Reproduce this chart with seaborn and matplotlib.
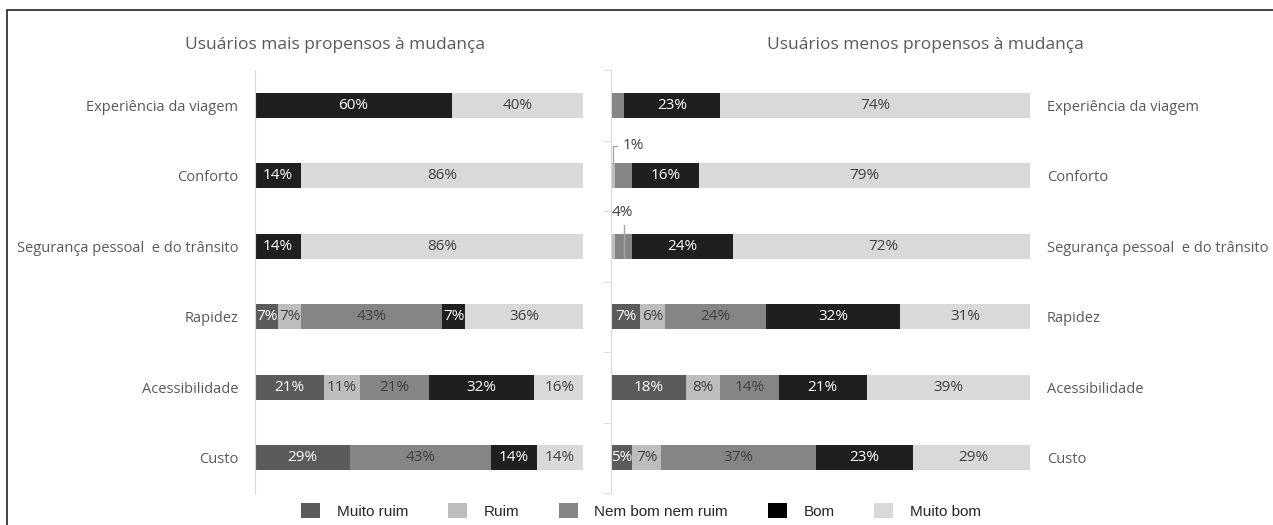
import matplotlib
matplotlib.use("Agg")
import pandas as pd
import seaborn as sns
import matplotlib.pyplot as plt
from matplotlib.patches import Rectangle, Patch

# Data
categories = ["Experiência da viagem", "Conforto", "Segurança pessoal  e do trânsito",
              "Rapidez", "Acessibilidade", "Custo"]
levels = ["Muito ruim", "Ruim", "Nem bom nem ruim", "Bom", "Muito bom"]

mais_muito_ruim = [0, 0, 0, 7, 21, 29]
mais_ruim = [0, 0, 0, 7, 11, 0]
mais_nem = [0, 0, 0, 43, 21, 43]
mais_bom = [60, 14, 14, 7, 32, 14]
mais_muito_bom = [40, 86, 86, 36, 16, 14]

menos_muito_ruim = [0, 0, 0, 7, 18, 5]
menos_ruim = [0, 1, 1, 6, 8, 7]
menos_nem = [3, 4, 4, 24, 14, 37]
menos_bom = [23, 16, 24, 32, 21, 23]
menos_muito_bom = [74, 79, 72, 31, 39, 29]

titles = ["Usuários mais propensos à mudança", "Usuários menos propensos à mudança"]

colors = {"Muito ruim": "#5b5b5b", "Ruim": "#bdbdbd", "Nem bom nem ruim": "#858585",
          "Bom": "#1f1f1f", "Muito bom": "#d9d9d9"}
dark = ["Muito ruim", "Bom"]

sns.set_style("white")
plt.rcParams["font.family"] = ["Open Sans", "DejaVu Sans"]

fig = plt.figure(figsize=(12.73, 5.25), dpi=100)
ax1 = fig.add_axes([255 / 1273, 1 - 493 / 525, 328 / 1273, 423 / 525])
ax2 = fig.add_axes([611 / 1273, 1 - 493 / 525, 419 / 1273, 423 / 525])


def draw_panel(ax, values):
    df = pd.DataFrame(dict(zip(levels, values)), index=categories)
    cum = df.cumsum(axis=1)
    # stacked bars: draw cumulative totals from the back
    for lvl in reversed(levels):
        sns.barplot(x=cum[lvl].values, y=categories, order=categories, orient="h",
                    color=colors[lvl], saturation=1, width=0.35, linewidth=0, ax=ax)
    for i, cat in enumerate(categories):
        start = 0
        for lvl in levels:
            v = df.loc[cat, lvl]
            if v >= 5:
                ax.text(start + v / 2, i, f"{v}%", ha="center", va="center", fontsize=11,
                        color="white" if lvl in dark else "#404040", clip_on=True)
            start += v
    ax.set_xlim(0, 100)
    ax.set_ylim(5.5, -0.5)
    ax.set_xlabel("")
    ax.set_ylabel("")
    ax.set_xticks([])
    for s in ["top", "right", "bottom"]:
        ax.spines[s].set_visible(False)
    ax.spines["left"].set_color("#d9d9d9")
    ax.tick_params(axis="y", length=0, pad=12, labelsize=10.5, labelcolor="#595959")


draw_panel(ax1, [mais_muito_ruim, mais_ruim, mais_nem, mais_bom, mais_muito_bom])
draw_panel(ax2, [menos_muito_ruim, menos_ruim, menos_nem, menos_bom, menos_muito_bom])

ax2.yaxis.tick_right()
ax2.tick_params(axis="y", length=0, pad=12)
ax2.set_yticks([i - 0.5 for i in range(7)], minor=True)
ax2.tick_params(axis="y", which="minor", left=True, right=False, length=6, color="#d9d9d9")

# small segments labelled outside
ax2.annotate("1%", xy=(0.5, 0.83), xytext=(2.8, 0.575), fontsize=11, color="#404040",
             va="center", ha="left",
             arrowprops=dict(arrowstyle="-", color="#a6a6a6", lw=1,
                             connectionstyle="angle,angleA=0,angleB=90,rad=0",
                             shrinkA=2, shrinkB=0))
ax2.text(2.6, 1.52, "4%", fontsize=11, color="#404040", ha="center", va="center")
ax2.plot([3.1, 3.1], [1.7, 2.17], color="#a6a6a6", lw=1)

fig.text(335 / 1273, 1 - 45 / 525, titles[0], ha="center", va="center", fontsize=12.5, color="#595959")
fig.text(925 / 1273, 1 - 45 / 525, titles[1], ha="center", va="center", fontsize=12.5, color="#595959")

handles = [Patch(facecolor=colors[l] if l != "Bom" else "black", edgecolor="none") for l in levels]
fig.legend(handles, levels, loc="center", bbox_to_anchor=(641 / 1273, 1 - 511 / 525), ncol=5,
           frameon=False, handlelength=1.24, handleheight=1.1, handletextpad=1.1, columnspacing=2.6,
           prop={"family": "Liberation Sans", "size": 11})

fig.patches.append(Rectangle((7 / 1273, -0.1), 1.1, 1.1 - 10 / 525, transform=fig.transFigure,
                             fill=False, edgecolor="#222222", lw=1.2))

fig.savefig("out.png", dpi=100)
